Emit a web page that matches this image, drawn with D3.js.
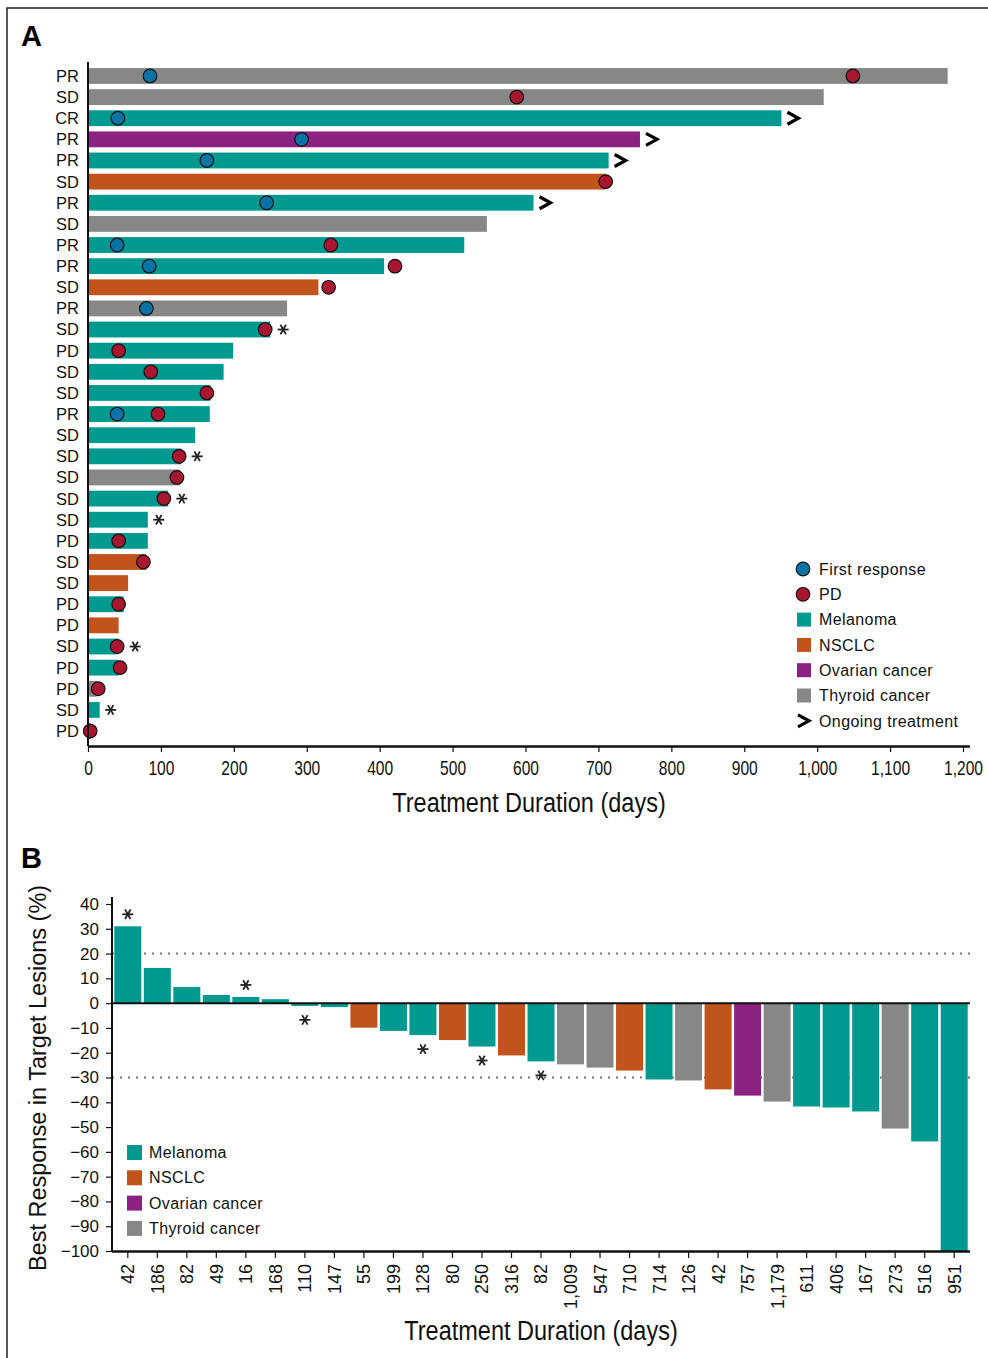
<!DOCTYPE html>
<html>
<head>
<meta charset="utf-8">
<script src="https://cdn.jsdelivr.net/npm/d3@7"></script>
<style>
  body { margin: 0; background: #fff; }
  svg { display: block; }
</style>
</head>
<body>
<div id="chart"></div>
<script>
// ---- panel A: one row per patient, top to bottom ----
const respA = ['PR','SD','CR','PR','PR','SD','PR','SD','PR','PR','SD','PR','SD','PD','SD','SD',
               'PR','SD','SD','SD','SD','SD','PD','SD','SD','PD','PD','SD','PD','PD','SD','PD'];
const typeA = ['Thyroid cancer','Thyroid cancer','Melanoma','Ovarian cancer','Melanoma','NSCLC','Melanoma','Thyroid cancer',
               'Melanoma','Melanoma','NSCLC','Thyroid cancer','Melanoma','Melanoma','Melanoma','Melanoma',
               'Melanoma','Melanoma','Melanoma','Thyroid cancer','Melanoma','Melanoma','Melanoma','NSCLC',
               'NSCLC','Melanoma','NSCLC','Melanoma','Melanoma','Thyroid cancer','Melanoma','Melanoma'];
const daysA = [1179, 1009, 951, 757, 714, 710, 611, 547, 516, 406, 316, 273, 250, 199, 186, 168,
               167, 147, 128, 126, 110, 82, 82, 80, 55, 49, 42, 42, 42, 12, 16, 4];
const firstRespA = [85, null, 41, 293, 163, null, 245, null, 40, 84, null, 80, null, null, null, null,
                    40, null, null, null, null, null, null, null, null, null, null, null, null, null, null, null];
const pdDayA = [1049, 588, null, null, null, 710, null, null, 333, 421, 330, null, 243, 42, 86, 163,
                96, null, 125, 122, 104, null, 42, 76, null, 42, null, 40, 44, 14, null, 3];
const ongoingA = [false, false, true, true, true, false, true, false, false, false, false, false, false, false, false, false,
                  false, false, false, false, false, false, false, false, false, false, false, false, false, false, false, false];
const starA = [false, false, false, false, false, false, false, false, false, false, false, false, true, false, false, false,
               false, false, true, false, true, true, false, false, false, false, false, true, false, false, true, false];
const ticksA = [0, 100, 200, 300, 400, 500, 600, 700, 800, 900, 1000, 1100, 1200];

// ---- panel B: waterfall of best response ----
const daysB = ['42','186','82','49','16','168','110','147','55','199','128','80','250','316','82',
               '1,009','547','710','714','126','42','757','1,179','611','406','167','273','516','951'];
const typeB = ['Melanoma','Melanoma','Melanoma','Melanoma','Melanoma','Melanoma','Melanoma','Melanoma','NSCLC',
               'Melanoma','Melanoma','NSCLC','Melanoma','NSCLC','Melanoma','Thyroid cancer','Thyroid cancer','NSCLC',
               'Melanoma','Thyroid cancer','NSCLC','Ovarian cancer','Thyroid cancer','Melanoma','Melanoma','Melanoma',
               'Thyroid cancer','Melanoma','Melanoma'];
const respB = [31, 14.2, 6.5, 3.3, 2.5, 1.6, -1.1, -1.6, -9.9, -11.2, -12.9, -14.9, -17.5, -21.1, -23.5,
               -24.7, -26, -27.2, -30.8, -31.2, -34.8, -37.3, -39.7, -41.7, -42.1, -43.7, -50.6, -55.8, -100];
const starB = [true, false, false, false, true, false, true, false, false, false, true, false, true, false, true,
               false, false, false, false, false, false, false, false, false, false, false, false, false, false];
const ticksB = [40, 30, 20, 10, 0, -10, -20, -30, -40, -50, -60, -70, -80, -90, -100];
const refLinesB = [20, -30];

const cancerTypes = ['Melanoma', 'NSCLC', 'Ovarian cancer', 'Thyroid cancer'];
const color = d3.scaleOrdinal()
  .domain(cancerTypes)
  .range(['#009990', '#c1531c', '#8b2180', '#878787']);

const sans = '"Liberation Sans", Arial, sans-serif';

const W = 988, H = 1358;
const svg = d3.select('#chart').append('svg')
  .attr('width', W)
  .attr('height', H);

// frame
svg.append('path')
  .attr('d', 'M7,1358 V8 H988')
  .attr('fill', 'none')
  .attr('stroke', '#222')
  .attr('stroke-width', 1.5);

function asterisk(g, cx, cy) {
  const r = 5.5;
  const a = g.append('g').attr('transform', `translate(${cx},${cy})`)
    .attr('stroke', '#222').attr('stroke-width', 1.8);
  [0, 60, 120].forEach(deg => {
    const t = deg * Math.PI / 180;
    a.append('line')
      .attr('x1', -r * Math.cos(t)).attr('y1', -r * Math.sin(t))
      .attr('x2', r * Math.cos(t)).attr('y2', r * Math.sin(t));
  });
}

function chevron(g, x, y) {
  g.append('path')
    .attr('d', `M${x},${y - 6} L${x + 11},${y} L${x},${y + 6}`)
    .attr('fill', 'none')
    .attr('stroke', '#000')
    .attr('stroke-width', 3.2);
}

// condensed-looking title (squeezed sans)
function narrowTitle(x, y, txt) {
  svg.append('text')
    .attr('transform', `translate(${x},${y}) scale(0.84,1)`)
    .attr('text-anchor', 'middle')
    .style('font-family', sans).style('font-size', '28px').attr('fill', '#111')
    .text(txt);
}

// ================= Panel A =================
svg.append('text')
  .attr('x', 21).attr('y', 46)
  .style('font-family', sans).style('font-weight', 'bold').style('font-size', '29px')
  .text('A');

const xA = d3.scaleLinear().domain([0, 1200]).range([88, 963]);
const yA = d3.scaleBand().domain(d3.range(respA.length)).range([65.4, 741.6])
  .paddingInner(0.25).paddingOuter(0.125);

const gA = svg.append('g');

gA.selectAll('rect.bar')
  .data(daysA)
  .enter()
  .append('rect')
  .attr('class', 'bar')
  .attr('x', xA(0))
  .attr('y', (d, i) => yA(i))
  .attr('width', d => xA(d) - xA(0))
  .attr('height', yA.bandwidth())
  .attr('fill', (d, i) => color(typeA[i]));

const rowMid = i => yA(i) + yA.bandwidth() / 2;

daysA.forEach((d, i) => {
  if (ongoingA[i]) chevron(gA, xA(d) + 6, rowMid(i));
  if (starA[i]) {
    let right = xA(d);
    if (pdDayA[i] !== null) right = Math.max(right, xA(pdDayA[i]) + 7);
    asterisk(gA, right + 11, rowMid(i));
  }
});

gA.selectAll('circle.first')
  .data(d3.range(respA.length).filter(i => firstRespA[i] !== null))
  .enter()
  .append('circle')
  .attr('class', 'first')
  .attr('cx', i => xA(firstRespA[i]))
  .attr('cy', rowMid)
  .attr('r', 6.8)
  .attr('fill', '#0a73a6')
  .attr('stroke', '#111')
  .attr('stroke-width', 1.2);

gA.selectAll('circle.pd')
  .data(d3.range(respA.length).filter(i => pdDayA[i] !== null))
  .enter()
  .append('circle')
  .attr('class', 'pd')
  .attr('cx', i => xA(pdDayA[i]))
  .attr('cy', rowMid)
  .attr('r', 6.8)
  .attr('fill', '#a8172f')
  .attr('stroke', '#111')
  .attr('stroke-width', 1.2);

// y labels
gA.selectAll('text.resp')
  .data(respA)
  .enter()
  .append('text')
  .attr('class', 'resp')
  .attr('x', 79)
  .attr('y', (d, i) => rowMid(i))
  .attr('dy', '0.36em')
  .attr('text-anchor', 'end')
  .style('font-family', sans).style('font-size', '16.5px').attr('fill', '#111')
  .text(d => d);

gA.append('line')
  .attr('x1', 88).attr('x2', 88).attr('y1', 62).attr('y2', 746)
  .attr('stroke', '#111').attr('stroke-width', 2);

const axisA = gA.append('g')
  .attr('transform', 'translate(0,746)')
  .call(d3.axisBottom(xA).tickValues(ticksA).tickFormat(d3.format(',')).tickSize(6).tickSizeOuter(0));
axisA.select('.domain').attr('d', 'M88,0.5H970').attr('stroke', '#111').attr('stroke-width', 2.5);
axisA.selectAll('.tick line').attr('stroke', '#111').attr('stroke-width', 1.2);
axisA.selectAll('.tick text')
  .attr('y', 15)
  .attr('transform', 'scale(0.78,1)')
  .style('font-family', sans).style('font-size', '20px').attr('fill', '#111');

narrowTitle(529, 812, 'Treatment Duration (days)');

// legend A
const legA = gA.append('g');
const legItemsA = [
  { kind: 'circle', fill: '#0a73a6', label: 'First response' },
  { kind: 'circle', fill: '#a8172f', label: 'PD' },
  { kind: 'rect', fill: color('Melanoma'), label: 'Melanoma' },
  { kind: 'rect', fill: color('NSCLC'), label: 'NSCLC' },
  { kind: 'rect', fill: color('Ovarian cancer'), label: 'Ovarian cancer' },
  { kind: 'rect', fill: color('Thyroid cancer'), label: 'Thyroid cancer' },
  { kind: 'chev', fill: '#000', label: 'Ongoing treatment' }
];
legItemsA.forEach((it, k) => {
  const cy = 569 + k * 25.3;
  if (it.kind === 'circle') {
    legA.append('circle').attr('cx', 803).attr('cy', cy).attr('r', 6.8)
      .attr('fill', it.fill).attr('stroke', '#111').attr('stroke-width', 1.2);
  } else if (it.kind === 'rect') {
    legA.append('rect').attr('x', 797).attr('y', cy - 7).attr('width', 14).attr('height', 14).attr('fill', it.fill);
  } else {
    chevron(legA, 798, cy);
  }
  legA.append('text')
    .attr('x', 819).attr('y', cy).attr('dy', '0.36em')
    .style('font-family', sans).style('font-size', '16px').style('letter-spacing', '0.4px').attr('fill', '#111')
    .text(it.label);
});

// ================= Panel B =================
svg.append('text')
  .attr('x', 21).attr('y', 868)
  .style('font-family', sans).style('font-weight', 'bold').style('font-size', '29px')
  .text('B');

const xB = d3.scaleBand().domain(d3.range(respB.length)).range([114.3, 967.7]).paddingInner(0.085);
const yB = d3.scaleLinear().domain([-100, 40]).range([1251, 904]);

const gB = svg.append('g');

refLinesB.forEach(v => {
  gB.append('line')
    .attr('x1', 112).attr('x2', 970).attr('y1', yB(v)).attr('y2', yB(v))
    .attr('stroke', '#777').attr('stroke-width', 2).attr('stroke-dasharray', '2,6');
});

gB.selectAll('rect.bar')
  .data(respB)
  .enter()
  .append('rect')
  .attr('class', 'bar')
  .attr('x', (d, i) => xB(i))
  .attr('y', d => yB(Math.max(0, d)))
  .attr('width', xB.bandwidth())
  .attr('height', d => Math.abs(yB(d) - yB(0)))
  .attr('fill', (d, i) => color(typeB[i]));

respB.forEach((d, i) => {
  if (!starB[i]) return;
  const cx = xB(i) + xB.bandwidth() / 2;
  const cy = d >= 0 ? yB(d) - 12 : yB(d) + 14;
  asterisk(gB, cx, cy);
});

// zero line
gB.append('line')
  .attr('x1', 112).attr('x2', 970).attr('y1', yB(0)).attr('y2', yB(0))
  .attr('stroke', '#111').attr('stroke-width', 2);

const axisBy = gB.append('g')
  .attr('transform', 'translate(112,0)')
  .call(d3.axisLeft(yB).tickValues(ticksB).tickFormat(d => d < 0 ? '\u2212' + Math.abs(d) : d).tickSize(6).tickSizeOuter(0));
axisBy.select('.domain').attr('d', 'M0,897V1251').attr('stroke', '#111').attr('stroke-width', 2);
axisBy.selectAll('.tick line').attr('stroke', '#111').attr('stroke-width', 1.2);
axisBy.selectAll('.tick text')
  .attr('x', -13)
  .style('font-family', sans).style('font-size', '17px').attr('fill', '#111');

const axisBx = gB.append('g')
  .attr('transform', 'translate(0,1251)')
  .call(d3.axisBottom(xB).tickFormat(i => daysB[i]).tickSize(7).tickSizeOuter(0));
axisBx.select('.domain').attr('d', 'M112,0.5H970').attr('stroke', '#111').attr('stroke-width', 2.5);
axisBx.selectAll('.tick line').attr('stroke', '#111').attr('stroke-width', 1.2);
axisBx.selectAll('.tick text')
  .attr('transform', 'rotate(-90)')
  .attr('x', -13).attr('y', 0).attr('dy', '0.36em')
  .style('text-anchor', 'end')
  .style('font-family', sans).style('font-size', '18px').attr('fill', '#111');

gB.append('text')
  .attr('transform', 'translate(46,1078) rotate(-90)')
  .attr('text-anchor', 'middle')
  .style('font-family', sans).style('font-size', '23.5px').attr('fill', '#111')
  .text('Best Response in Target Lesions (%)');

narrowTitle(541, 1340, 'Treatment Duration (days)');

// legend B
const legB = gB.append('g');
cancerTypes.forEach((t, k) => {
  const cy = 1152 + k * 25.3;
  legB.append('rect').attr('x', 127).attr('y', cy - 7).attr('width', 15).attr('height', 15).attr('fill', color(t));
  legB.append('text')
    .attr('x', 149).attr('y', cy).attr('dy', '0.38em')
    .style('font-family', sans).style('font-size', '16px').style('letter-spacing', '0.4px').attr('fill', '#111')
    .text(t);
});
</script>
</body>
</html>
